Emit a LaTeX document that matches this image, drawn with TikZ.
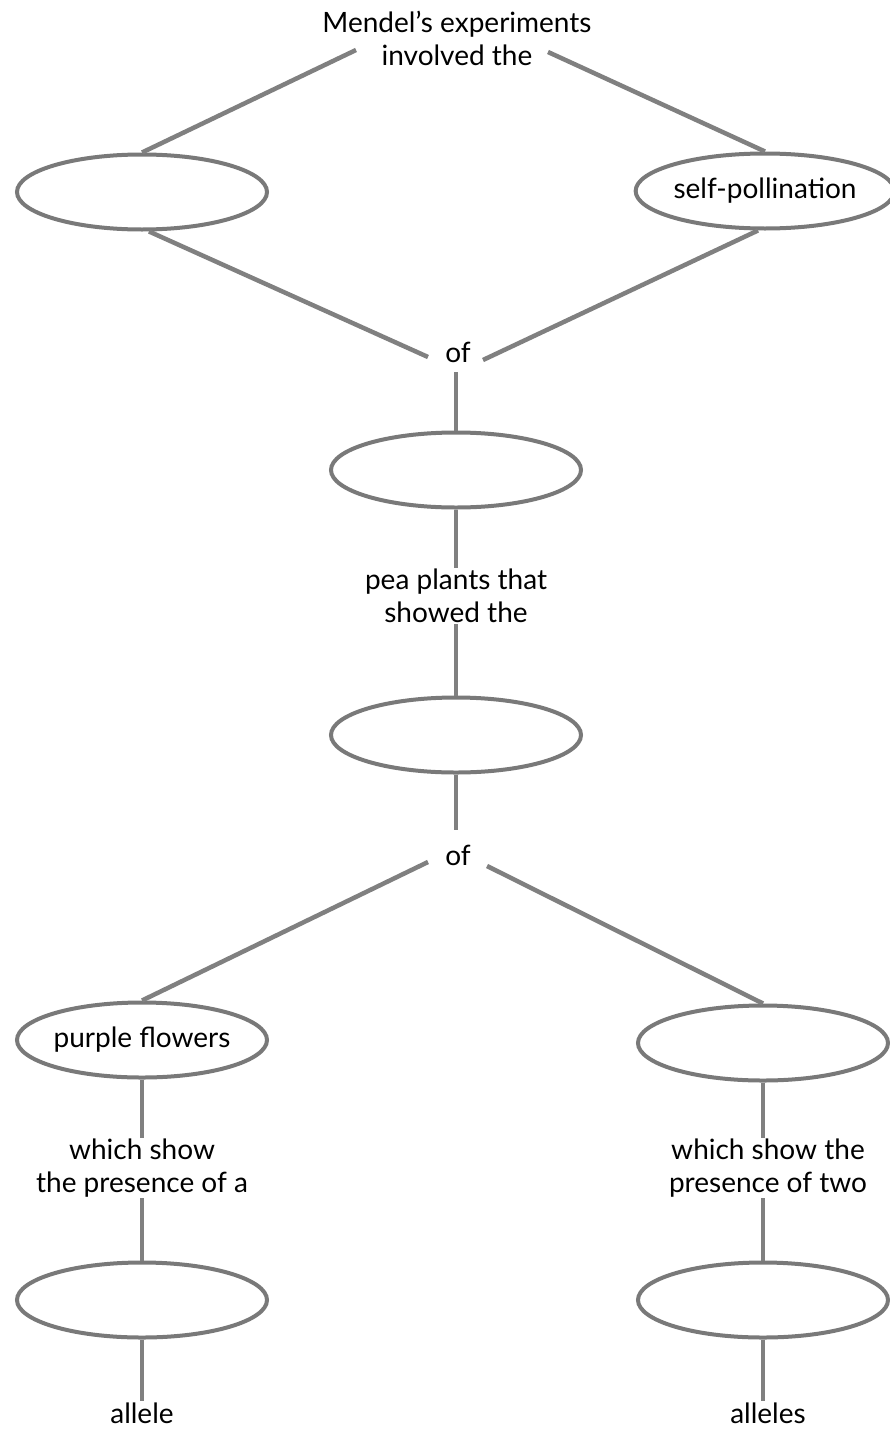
\documentclass[tikz,border=0pt]{standalone}
\usepackage{fontspec}
\setmainfont{Lato}
\usetikzlibrary{shapes.geometric}
\begin{document}
\begin{tikzpicture}[x=1pt,y=-1pt,
  oval/.style={ellipse,draw=gray!95!black,line width=4pt,minimum width=250pt,minimum height=75pt,inner sep=0pt,font=\fontsize{28}{33}\selectfont},
  lbl/.style={align=center,inner sep=1pt,font=\fontsize{28}{33}\selectfont},
  conn/.style={draw=gray,line width=4.5pt}]
\useasboundingbox[fill=white] (0,0) rectangle (890,1429);
% text nodes
\node[lbl] (title) at (457,38) {Mendel's experiments\\involved the};
\node[lbl] (of1) at (458,352) {of};
\node[lbl] (pea) at (456,596) {pea plants that\\showed the};
\node[lbl] (of2) at (458,855) {of};
\node[lbl] (whichL) at (142,1168) {which show\\the presence of a};
\node[lbl] (whichR) at (768,1168) {which show the\\presence of two};
\node[lbl] (allele) at (142,1413) {allele};
\node[lbl] (alleles) at (768,1413) {alleles};
% ellipses
\node[oval] (e1) at (142,192) {};
\node[oval] (e2) at (765,191) {self-pollination};
\node[oval] (e3) at (456,470) {};
\node[oval] (e4) at (456,735) {};
\node[oval] (e5) at (142,1040) {purple flowers};
\node[oval] (e6) at (763,1043) {};
\node[oval] (e7) at (142,1300) {};
\node[oval] (e8) at (763,1300) {};
% free ends beside the labels
\coordinate (tL) at (356,50);
\coordinate (tR) at (548,52);
\coordinate (o1L) at (428,357);
\coordinate (o1R) at (483,360);
\coordinate (o2L) at (428,862);
\coordinate (o2R) at (487,866);
\coordinate (o1B) at (456,372);
\coordinate (o2T) at (456,830);
% connectors
\draw[conn] (tL) -- (e1.north);
\draw[conn] (tR) -- (e2.north);
\draw[conn] (e1.-80) -- (o1L);
\draw[conn] (e2.-100) -- (o1R);
\draw[conn] (o1B) -- (e3.north);
\draw[conn] (e3.south) -- (pea.north);
\draw[conn] (pea.south) -- (e4.north);
\draw[conn] (e4.south) -- (o2T);
\draw[conn] (o2L) -- (e5.north);
\draw[conn] (o2R) -- (e6.north);
\draw[conn] (e5.south) -- (whichL.north);
\draw[conn] (whichL.south) -- (e7.north);
\draw[conn] (e7.south) -- (allele.north);
\draw[conn] (e6.south) -- (e6.south |- whichR.north);
\draw[conn] (e6.south |- whichR.south) -- (e8.north);
\draw[conn] (e8.south) -- (e8.south |- alleles.north);
\end{tikzpicture}
\end{document}
